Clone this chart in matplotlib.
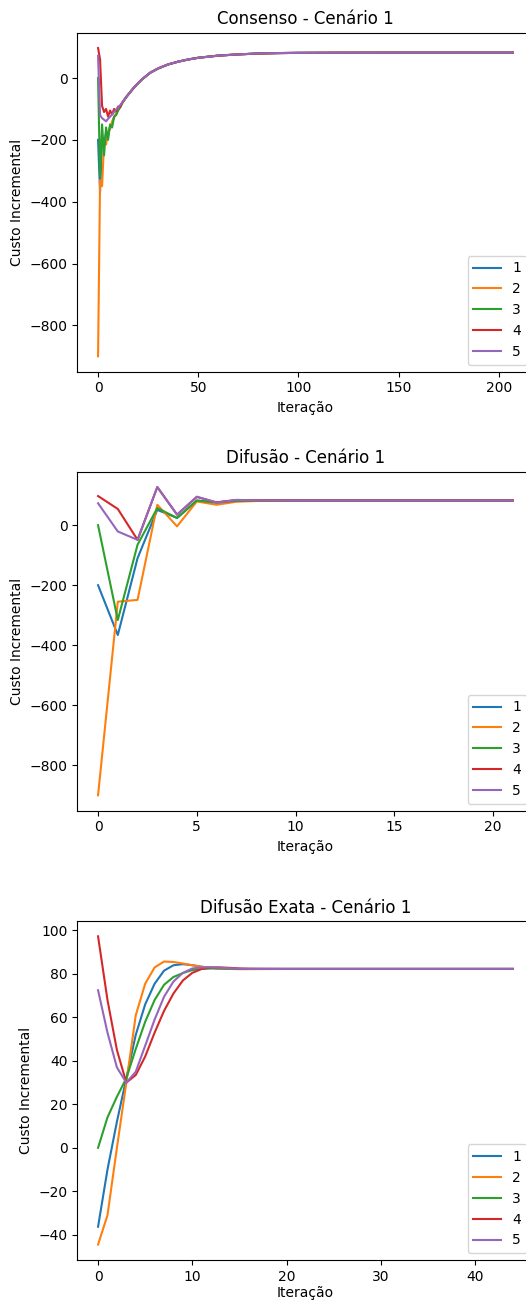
import matplotlib
matplotlib.use('Agg')
import matplotlib.pyplot as plt

agents = ['1', '2', '3', '4', '5']

# ---------------- Consenso - Cenário 1 ----------------
cons_early_x = list(range(13))
cons_1 = [-200, -370, -200, -220, -175, -185, -155, -150, -125, -118, -102, -93, -81]
cons_2 = [-900, -330, -350, -210, -215, -175, -165, -140, -128, -115, -104, -92, -81]
cons_3 = [0, -320, -150, -250, -160, -200, -150, -160, -125, -120, -105, -95, -82]
cons_4 = [97, 60, -90, -110, -100, -125, -105, -118, -100, -108, -92, -95, -80]
cons_5 = [72, -120, -130, -135, -140, -132, -125, -118, -110, -102, -95, -88, -80]
cons_tail_x = [14, 18, 22, 26, 30, 35, 40, 45, 50, 60, 70, 80, 90, 100, 120, 150, 207]
cons_tail = [-62, -30, -4, 17, 31, 44, 53, 60, 65.5, 72.5, 76.5, 79.3, 80.7, 81.4, 81.9, 82.2, 82.3]

# ---------------- Difusão - Cenário 1 ----------------
diff_early_x = list(range(10))
diff_1 = [-200, -366, -110, 51, 24, 82, 76, 82, 82.5, 82.3]
diff_2 = [-900, -255, -249, 68, -4, 79, 68, 78, 80.5, 81.8]
diff_3 = [0, -316, -65, 57, 24, 82, 75, 81, 82, 82.3]
diff_4 = [97, 54, -49, 127, 35, 94, 76, 84, 83, 82.5]
diff_5 = [73, -21, -49, 127, 35, 95, 75, 84, 83, 82.5]
diff_tail_x = [10, 15, 21]
diff_tail = [82.3, 82.3, 82.3]

# ---------------- Difusão Exata - Cenário 1 ----------------
exact_early_x = list(range(17))
exact_1 = [-36.3, -10, 12, 32, 52, 66, 75.5, 81.5, 84, 84.5, 84, 83.3, 82.8, 82.5, 82.4, 82.3, 82.3]
exact_2 = [-44.5, -31, 0, 30, 61, 75.5, 83, 85.7, 85.5, 84.8, 84, 83.3, 82.8, 82.5, 82.3, 82.2, 82.2]
exact_3 = [0, 14, 23.5, 32, 45.5, 58, 68, 75, 78.6, 80.4, 81.8, 82.3, 82.5, 82.5, 82.4, 82.3, 82.3]
exact_4 = [97.3, 68, 45, 30, 33.5, 42, 53, 63, 71, 77, 80.5, 82.3, 83, 83, 82.8, 82.5, 82.4]
exact_5 = [72.5, 53, 37, 30, 35, 47, 59, 69.5, 76.5, 80.5, 82.5, 83, 83, 82.8, 82.6, 82.4, 82.3]
exact_tail_x = [20, 30, 44]
exact_tail = [82.3, 82.3, 82.3]

titles = ['Consenso - Cenário 1', 'Difusão - Cenário 1', 'Difusão Exata - Cenário 1']
xlabel = 'Iteração'
ylabel = 'Custo Incremental'

panels = [
    (cons_early_x, [cons_1, cons_2, cons_3, cons_4, cons_5], cons_tail_x, cons_tail),
    (diff_early_x, [diff_1, diff_2, diff_3, diff_4, diff_5], diff_tail_x, diff_tail),
    (exact_early_x, [exact_1, exact_2, exact_3, exact_4, exact_5], exact_tail_x, exact_tail),
]

fig = plt.figure(figsize=(5.26, 13), dpi=100)
left, width, height = 0.147, 0.8673, 0.2608
bottoms = [0.7141, 0.3764, 0.0308]
labelpads = [4, 4, 1.5]

for (ex, series, tx, tv), title, b, lp in zip(panels, titles, bottoms, labelpads):
    ax = fig.add_axes([left, b, width, height])
    for name, vals in zip(agents, series):
        ax.plot(ex + tx, vals + tv, label=name)
    ax.set_title(title)
    ax.set_xlabel(xlabel, labelpad=lp)
    ax.set_ylabel(ylabel)
    ax.legend(loc='lower right')

fig.savefig('out.png', dpi=100)
